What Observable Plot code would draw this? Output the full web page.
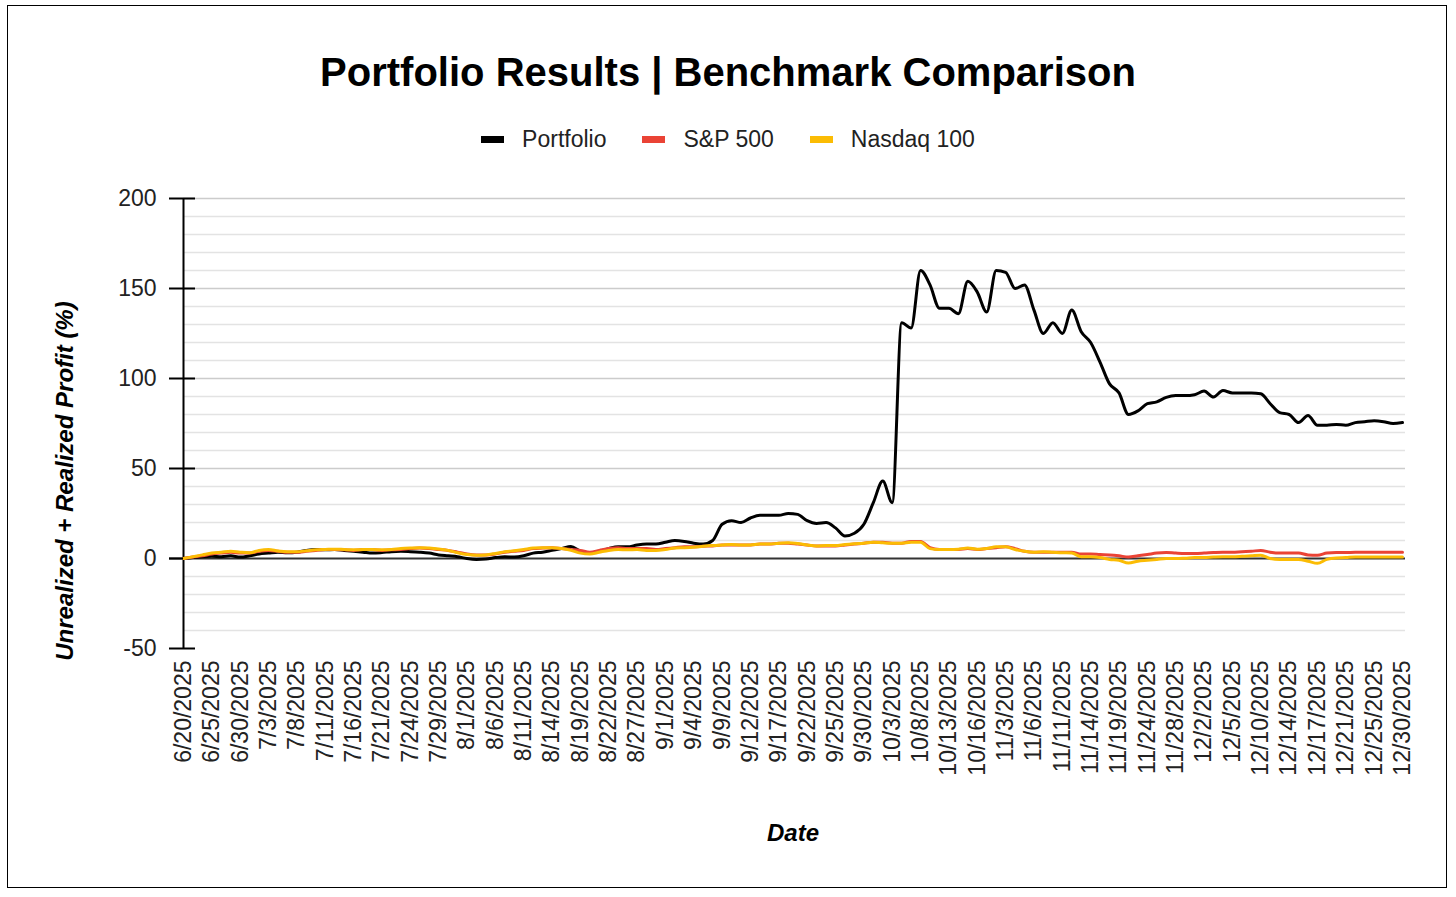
<!DOCTYPE html>
<html>
<head>
<meta charset="utf-8">
<script src="https://cdn.jsdelivr.net/npm/d3@7"></script>
<script src="https://cdn.jsdelivr.net/npm/@observablehq/plot@0.6"></script>
<style>
  html, body { margin: 0; padding: 0; background: #fff; }
  body { width: 1456px; height: 897px; position: relative; overflow: hidden; font-family: "Liberation Sans", Arial, sans-serif; }
  #frame { position: absolute; left: 7px; top: 5px; width: 1440px; height: 883px; border: 1.5px solid #000; box-sizing: border-box; }
  #title { position: absolute; left: 0; top: 52px; width: 1456px; text-align: center; font: bold 40px/40px "Liberation Sans", Arial, sans-serif; color: #000; }
  #legend { position: absolute; left: 0; top: 127px; width: 1456px; display: flex; justify-content: center; align-items: center; font: 23px/24px "Liberation Sans", Arial, sans-serif; color: #222; }
  .item { display: flex; align-items: center; margin: 0 18px; }
  .sw { width: 23px; height: 7px; margin-right: 18px; }
  #ytitle { position: absolute; left: 65px; top: 481px; transform: translate(-50%, -50%) rotate(-90deg); white-space: nowrap; font: italic bold 24px/24px "Liberation Sans", Arial, sans-serif; color: #000; }
  #chart { position: absolute; left: 0; top: 0; }
</style>
</head>
<body>
<div id="frame"></div>
<div id="title">Portfolio Results | Benchmark Comparison</div>
<div id="legend"></div>
<div id="chart"></div>
<div id="ytitle"></div>
<script>
const dates = [
  "6/20/2025","6/23/2025","6/24/2025","6/25/2025","6/26/2025","6/27/2025","6/30/2025","7/1/2025","7/2/2025",
  "7/3/2025","7/5/2025","7/7/2025","7/8/2025","7/9/2025","7/10/2025","7/11/2025","7/14/2025","7/15/2025",
  "7/16/2025","7/17/2025","7/18/2025","7/21/2025","7/22/2025","7/23/2025","7/24/2025","7/25/2025","7/28/2025",
  "7/29/2025","7/30/2025","7/31/2025","8/1/2025","8/4/2025","8/5/2025","8/6/2025","8/7/2025","8/8/2025",
  "8/11/2025","8/12/2025","8/13/2025","8/14/2025","8/15/2025","8/18/2025","8/19/2025","8/20/2025","8/21/2025",
  "8/22/2025","8/25/2025","8/26/2025","8/27/2025","8/28/2025","8/29/2025","9/1/2025","9/2/2025","9/3/2025",
  "9/4/2025","9/5/2025","9/8/2025","9/9/2025","9/10/2025","9/11/2025","9/12/2025","9/15/2025","9/16/2025",
  "9/17/2025","9/18/2025","9/19/2025","9/22/2025","9/23/2025","9/24/2025","9/25/2025","9/26/2025","9/29/2025",
  "9/30/2025","10/1/2025","10/2/2025","10/3/2025","10/6/2025","10/7/2025","10/8/2025","10/9/2025","10/10/2025",
  "10/13/2025","10/14/2025","10/15/2025","10/16/2025","10/17/2025","10/31/2025","11/3/2025","11/4/2025","11/5/2025",
  "11/6/2025","11/7/2025","11/10/2025","11/11/2025","11/12/2025","11/13/2025","11/14/2025","11/17/2025","11/18/2025",
  "11/19/2025","11/20/2025","11/21/2025","11/24/2025","11/25/2025","11/26/2025","11/28/2025","11/29/2025","12/1/2025",
  "12/2/2025","12/3/2025","12/4/2025","12/5/2025","12/8/2025","12/9/2025","12/10/2025","12/11/2025","12/12/2025",
  "12/14/2025","12/15/2025","12/16/2025","12/17/2025","12/18/2025","12/19/2025","12/21/2025","12/22/2025","12/23/2025",
  "12/25/2025","12/26/2025","12/29/2025","12/30/2025"
];

const xTickLabels = [
  "6/20/2025","6/25/2025","6/30/2025","7/3/2025","7/8/2025","7/11/2025","7/16/2025","7/21/2025","7/24/2025",
  "7/29/2025","8/1/2025","8/6/2025","8/11/2025","8/14/2025","8/19/2025","8/22/2025","8/27/2025","9/1/2025",
  "9/4/2025","9/9/2025","9/12/2025","9/17/2025","9/22/2025","9/25/2025","9/30/2025","10/3/2025","10/8/2025",
  "10/13/2025","10/16/2025","11/3/2025","11/6/2025","11/11/2025","11/14/2025","11/19/2025","11/24/2025",
  "11/28/2025","12/2/2025","12/5/2025","12/10/2025","12/14/2025","12/17/2025","12/21/2025","12/25/2025","12/30/2025"
];

const portfolio = [
  0, 0.5, 1, 1.2, 1, 1.5, 0.8, 1.5, 2.5, 3,
  3.5, 3.2, 3.5, 4.5, 5, 4.8, 5, 4.5, 4, 3.5,
  3, 3.3, 3.8, 4, 3.8, 3.5, 3, 2, 1.5, 1,
  0, -0.5, -0.3, 0.5, 1, 0.8, 1.5, 3, 3.5, 4.5,
  5.5, 6.6, 4, 3, 4, 5.5, 6.5, 6.5, 7.5, 8,
  8, 9, 10, 9.5, 8.5, 8, 10, 19, 21, 20,
  22.5, 24, 24, 24, 25, 24.5, 21, 19.5, 20, 17,
  12.5, 14, 19, 31, 43, 31, 131, 128, 160, 152,
  139, 139, 136, 154, 148, 137, 160, 159, 150, 152,
  138, 125, 131, 125, 138, 126, 120, 109, 97, 92,
  80, 82, 86, 87, 89.5, 90.5, 90.5, 91, 93, 89.7,
  93.3, 92, 92, 92, 91.5, 86, 81, 80, 75.5, 79.4,
  74, 74, 74.5, 74, 75.5, 76, 76.5, 76, 75, 75.5
];

const sp500 = [
  0, 0.8, 1.5, 2.5, 3, 3.5, 3, 3, 4, 4.5,
  4, 3.5, 3.5, 4, 4.5, 5, 5, 4.8, 4.5, 5,
  5, 4.5, 4.8, 5, 5.5, 5.8, 5.5, 5, 4.5, 3.5,
  2.5, 2, 2, 2.5, 3.5, 4, 4.5, 5.5, 5.8, 6,
  5.5, 5, 4.5, 3.5, 4.5, 5.5, 6, 5.5, 5.5, 5.5,
  5, 5.5, 6, 6.5, 6.5, 6.8, 7, 7.5, 7.5, 7.5,
  7.5, 8, 8, 8.5, 8.5, 8, 7.5, 7, 7, 7,
  7.5, 8, 8.5, 9, 9, 8.5, 8.5, 9.5, 9.5, 6,
  5, 5, 5, 5.5, 5, 5.5, 6, 6.5, 5.5, 4,
  3.5, 3.5, 3.5, 3.5, 3.5, 2.5, 2.5, 2.2, 2, 1.5,
  0.8, 1.5, 2.2, 3, 3.3, 3, 2.8, 2.8, 3, 3.3,
  3.5, 3.5, 3.8, 4, 4.5, 3.5, 3, 3, 3, 2,
  1.8, 3, 3.3, 3.3, 3.5, 3.5, 3.5, 3.5, 3.5, 3.5
];

const nasdaq100 = [
  0, 1, 2, 3, 3.5, 4, 3.5, 3.2, 4.5, 5,
  4.2, 3.8, 3.8, 4.3, 4.8, 5, 5.2, 5, 4.8, 5,
  5, 4.8, 5, 5.5, 5.8, 6, 5.8, 5.3, 4.5, 3.2,
  2.2, 1.8, 2, 2.8, 3.8, 4.3, 5, 5.8, 6, 6,
  5.5, 4.5, 3, 2.5, 3.5, 4.5, 5, 4.8, 5, 4.5,
  4.5, 5, 5.8, 6, 6.3, 6.8, 7.2, 7.5, 7.8, 7.5,
  7.5, 8, 8, 8.5, 8.7, 8.3, 7.5, 7, 7.2, 7.2,
  7.8, 8.2, 8.5, 9, 8.7, 8.5, 8.5, 9, 9, 5.5,
  5, 5, 5.2, 5.8, 5.2, 5.5, 6.5, 6.5, 5, 4,
  3.5, 3.8, 3.5, 3.2, 3, 1, 1, 0.5, -0.5, -1,
  -2.5, -1.5, -1, -0.5, 0, 0, 0.2, 0.5, 0.5, 0.8,
  1, 1, 1.2, 1.5, 1.8, 0, -0.5, -0.5, -0.5, -1.5,
  -2.7, -0.5, 0.3, 0.5, 0.8, 0.8, 0.8, 0.8, 0.8, 0.8
];

const seriesNames = ["Portfolio", "S&P 500", "Nasdaq 100"];
const seriesColors = ["#000000", "#ea4335", "#fbbc04"];
const yTicks = [-50, 0, 50, 100, 150, 200];
const yMajorGrid = [50, 100, 150, 200];
const yMinorGrid = [-40, -30, -20, -10, 10, 20, 30, 40, 60, 70, 80, 90, 110, 120, 130, 140, 160, 170, 180, 190];
const yTitle = "Unrealized + Realized Profit (%)";
const xTitle = "Date";

const rows = dates.map((d, i) => ({date: d, portfolio: portfolio[i], sp500: sp500[i], nasdaq100: nasdaq100[i]}));

// legend
const legend = document.getElementById("legend");
seriesNames.forEach((n, i) => {
  const it = document.createElement("div");
  it.className = "item";
  const sw = document.createElement("div");
  sw.className = "sw";
  sw.style.background = seriesColors[i];
  const t = document.createElement("span");
  t.textContent = n;
  it.appendChild(sw); it.appendChild(t);
  legend.appendChild(it);
});
document.getElementById("ytitle").textContent = yTitle;

const first = dates[0];
const chart = Plot.plot({
  width: 1456,
  height: 897,
  marginTop: 198,
  marginBottom: 249,
  marginLeft: 183,
  marginRight: 54,
  style: {fontFamily: "'Liberation Sans', Arial, sans-serif", fontSize: "23px", color: "#222", background: "transparent"},
  x: {type: "point", domain: dates, padding: 0},
  y: {domain: [-50, 200]},
  marks: [
    Plot.ruleY(yMinorGrid, {stroke: "#e3e3e3", strokeWidth: 1.5, insetRight: -3}),
    Plot.ruleY(yMajorGrid, {stroke: "#cccccc", strokeWidth: 1.5, insetRight: -3}),
    Plot.ruleY([0], {stroke: "#333", strokeWidth: 2, insetLeft: -14, insetRight: -3}),
    Plot.ruleX([first], {stroke: "#000", strokeWidth: 2}),
    Plot.line(rows, {x: "date", y: "portfolio", stroke: seriesColors[0], strokeWidth: 3, curve: "monotone-x"}),
    Plot.line(rows, {x: "date", y: "sp500", stroke: seriesColors[1], strokeWidth: 3, curve: "monotone-x"}),
    Plot.line(rows, {x: "date", y: "nasdaq100", stroke: seriesColors[2], strokeWidth: 3, curve: "monotone-x"}),
    Plot.axisY(yTicks, {tickSize: 14, tickPadding: 13, strokeWidth: 2, stroke: "#000", label: null, fontSize: 23, tickFormat: d => String(d)}),
    Plot.axisY(yTicks.filter(d => d !== 0), {tickSize: -12, strokeWidth: 2, stroke: "#000", label: null, tickFormat: () => ""}),
    Plot.axisX({ticks: xTickLabels, tickRotate: -90, tickSize: 0, tickPadding: 12, label: null, fontSize: 23}),
    Plot.text([xTitle], {frameAnchor: "bottom", dy: 192, fontSize: 24, fontWeight: "bold", fontStyle: "italic", fill: "#000"})
  ]
});
document.getElementById("chart").appendChild(chart);
</script>
</body>
</html>
